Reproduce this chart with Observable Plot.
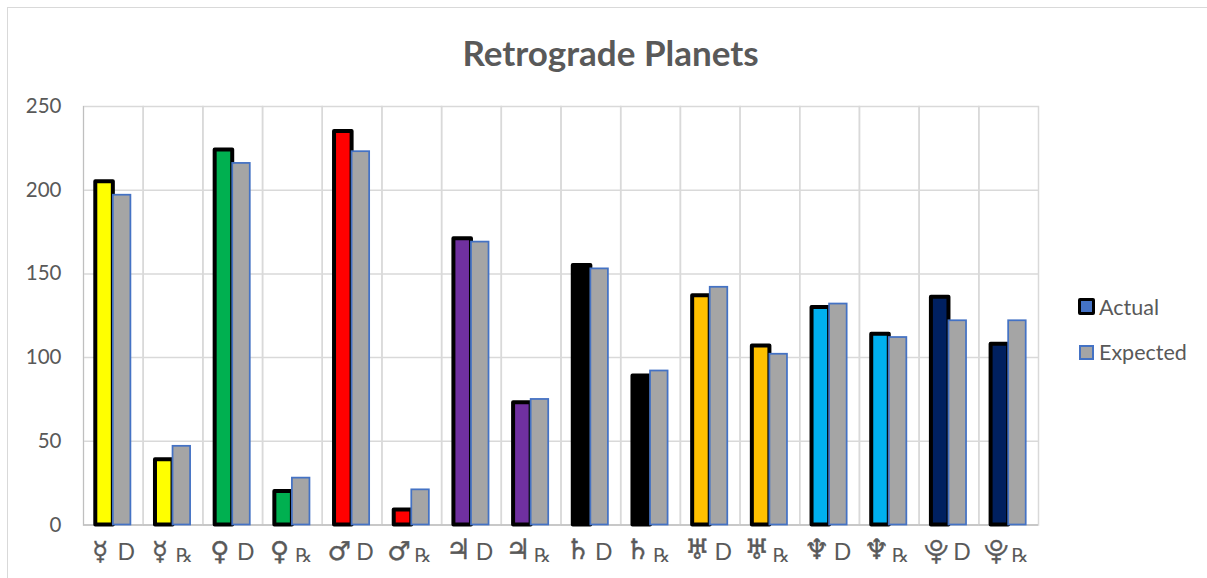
<!DOCTYPE html>
<html>
<head>
<meta charset="utf-8">
<script src="https://cdn.jsdelivr.net/npm/d3@7"></script>
<script src="https://cdn.jsdelivr.net/npm/@observablehq/plot@0.6"></script>
<style>
html,body{margin:0;padding:0;background:#fff;overflow:hidden}
#wrap{position:relative;width:1207px;height:578px;overflow:hidden;font-family:Lato,sans-serif;color:#595959}
#edge{position:absolute;left:7px;top:7px;width:1300px;height:700px;border:1.5px solid #d9d9d9;box-sizing:border-box}
#title{position:absolute;left:0;width:1221px;top:32px;text-align:center;font-size:35px;font-weight:700;line-height:40px}
#plot{position:absolute;left:0;top:0}
#yline{position:absolute;left:82.5px;top:106px;width:1.5px;height:419px;background:#bfbfbf}
.sw{position:absolute;box-sizing:border-box}
.lb{position:absolute;font-size:21.5px;line-height:26px}
</style>
</head>
<body>
<div id="wrap">
<div id="edge"></div>
<div id="plot"></div>
<div id="yline"></div>
<div id="title">Retrograde Planets</div>
<div class="sw" style="left:1078px;top:298px;width:17px;height:17px;background:#4472c4;border:3.5px solid #000;border-radius:2px"></div>
<div class="lb" style="left:1099px;top:294px">Actual</div>
<div class="sw" style="left:1079px;top:345px;width:15px;height:15px;background:#a5a5a5;border:2px solid #4472c4"></div>
<div class="lb" style="left:1099px;top:339px">Expected</div>
</div>
<script>
const categories = ["☿ D","☿ R","♀ D","♀ R","♂ D","♂ R","♃ D","♃ R","♄ D","♄ R","♅ D","♅ R","♆ D","♆ R","♇ D","♇ R"];
const glyphs = ["☿","☿","♀","♀","♂","♂","♃","♃","♄","♄","♅","♅","♆","♆","⯓","⯓"];
const motions = ["D","℞","D","℞","D","℞","D","℞","D","℞","D","℞","D","℞","D","℞"];
const actual = [205,39,224,20,235,9,171,73,155,89,137,107,130,114,136,108];
const expected = [197,47,216,28,223,21,169,75,153,92,142,102,132,112,122,122];
const barColors = ["#ffff00","#ffff00","#00b050","#00b050","#ff0000","#ff0000","#7030a0","#7030a0","#000000","#000000","#ffc000","#ffc000","#00b0f0","#00b0f0","#002060","#002060"];
const largeGlyphs = ["♃","♄","♅","♆"];
const mediumGlyphs = ["☿","♀","♂"];
const smallGlyphs = ["⯓"];

const idx = categories.map((_, i) => i);
const glyphMark = (set, fontSize, dy) => Plot.text(idx, {
  filter: i => set.includes(glyphs[i]), fx: i => categories[i], frameAnchor: "bottom", text: i => glyphs[i],
  dx: -13, dy, fontSize, fill: "#595959", stroke: "#595959", strokeWidth: 0.4, fontFamily: "DejaVu Sans"
});
const chart = Plot.plot({
  width: 1207,
  height: 578,
  marginLeft: 83,
  marginRight: 169,
  marginTop: 106,
  marginBottom: 53.5,
  style: {background: "transparent", fontFamily: "Lato, sans-serif", overflow: "visible"},
  fx: {domain: categories, axis: null, padding: 0, round: false},
  x: {domain: ["Actual","Expected"], axis: null, paddingInner: 0, paddingOuter: 0.7, round: false},
  y: {domain: [0,250], axis: null},
  color: {domain: categories, range: barColors},
  marks: [
    Plot.frame({stroke: "#d9d9d9", strokeWidth: 1.5}),
    Plot.ruleY([50,100,150,200], {stroke: "#d9d9d9", strokeWidth: 1.5}),
    Plot.ruleY([0], {stroke: "#bfbfbf", strokeWidth: 1.5}),
    Plot.axisY({ticks: [0,50,100,150,200,250], anchor: "left", facetAnchor: "left", tickSize: 0, tickPadding: 22, fontSize: 20.5, fill: "#595959", label: null, tickFormat: d => d}),
    Plot.barY(idx, {fx: i => categories[i], x: () => "Actual", y: i => actual[i], fill: i => categories[i], stroke: "#000", strokeWidth: 4, strokeLinejoin: "round"}),
    Plot.barY(idx, {fx: i => categories[i], x: () => "Expected", y: i => expected[i], fill: "#a5a5a5", stroke: "#4472c4", strokeWidth: 1.75}),
    glyphMark(mediumGlyphs, 26, 35),
    glyphMark(largeGlyphs, 28, 34),
    glyphMark(smallGlyphs, 25, 35),
    Plot.text(idx, {fx: i => categories[i], frameAnchor: "bottom", text: i => motions[i], dy: 35, fontSize: 23, fill: "#595959", filter: i => motions[i] === "D", dx: 13}),
    Plot.text(idx, {fx: i => categories[i], frameAnchor: "bottom", text: i => motions[i], dy: 37, fontSize: 19, fill: "#595959", fontFamily: "DejaVu Sans", filter: i => motions[i] !== "D", dx: 11})
  ]
});
document.getElementById("plot").append(chart);
</script>
</body>
</html>
